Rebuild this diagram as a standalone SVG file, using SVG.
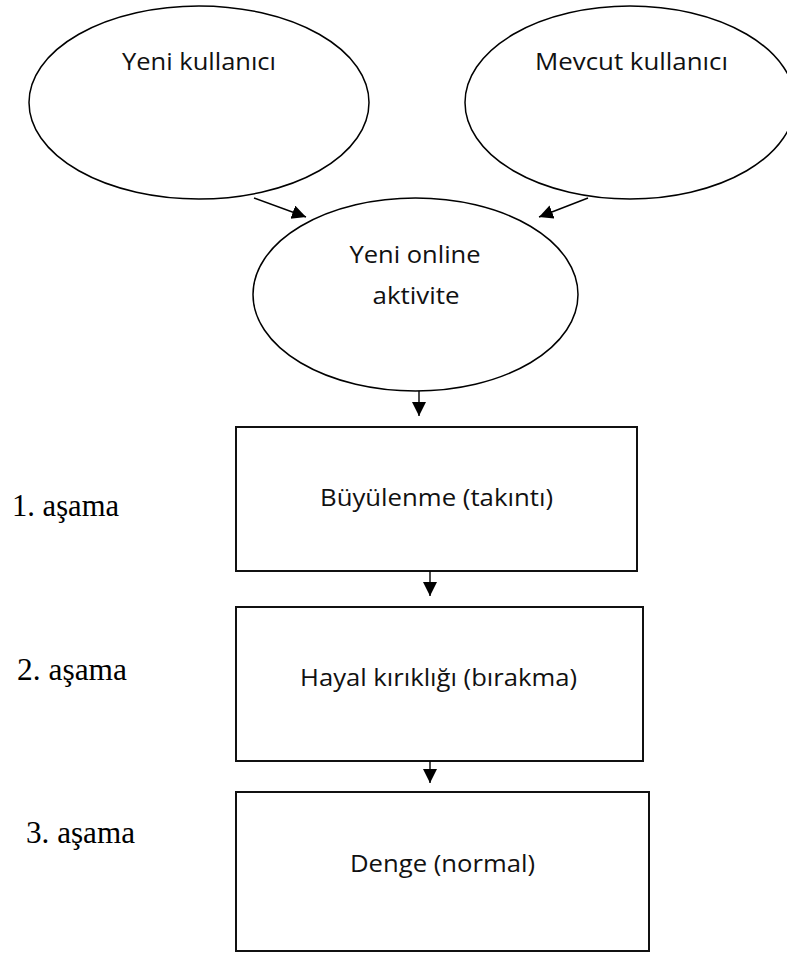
<svg xmlns="http://www.w3.org/2000/svg" width="787" height="953" viewBox="0 0 787 953">
<style>
.shape{fill:#fff;stroke:#000;stroke-width:1.5}
.box{fill:#fff;stroke:#111;stroke-width:2}
.lbl{font-family:"Open Sans","Liberation Sans",Arial,sans-serif;font-size:23px;fill:#111;text-anchor:middle}
.stage{font-family:"Liberation Serif","Times New Roman",serif;font-size:31px;fill:#000}
.conn{stroke:#000;stroke-width:1.4;fill:none;marker-end:url(#ah)}
</style>
<defs>
<marker id="ah" markerUnits="userSpaceOnUse" markerWidth="15" markerHeight="15" refX="14" refY="7" orient="auto">
<path d="M0,0 L14,7 L0,14 z" fill="#000"/>
</marker>
</defs>
<rect width="787" height="953" fill="#fff"/>
<g id="n-yeni-kullanici">
<ellipse class="shape" cx="199" cy="102.5" rx="170" ry="96.5"/>
<text class="lbl" x="199" y="70" textLength="154" lengthAdjust="spacingAndGlyphs">Yeni kullanıcı</text>
</g>
<g id="n-mevcut-kullanici">
<ellipse class="shape" cx="630" cy="102.5" rx="165" ry="96.5"/>
<text class="lbl" x="631.5" y="70" textLength="193" lengthAdjust="spacingAndGlyphs">Mevcut kullanıcı</text>
</g>
<g id="n-yeni-online">
<ellipse class="shape" cx="415.5" cy="294.5" rx="162.5" ry="96.5"/>
<text class="lbl" x="415" y="263" textLength="131" lengthAdjust="spacingAndGlyphs">Yeni online</text>
<text class="lbl" x="416" y="304" textLength="87" lengthAdjust="spacingAndGlyphs">aktivite</text>
</g>
<g id="n-buyulenme">
<rect class="box" x="236" y="427" width="401" height="144"/>
<text class="lbl" x="436.5" y="506" textLength="233" lengthAdjust="spacingAndGlyphs">Büyülenme (takıntı)</text>
</g>
<g id="n-hayal">
<rect class="box" x="236" y="607" width="407" height="154"/>
<text class="lbl" x="438.5" y="686" textLength="277" lengthAdjust="spacingAndGlyphs">Hayal kırıklığı (bırakma)</text>
</g>
<g id="n-denge">
<rect class="box" x="236" y="792" width="413" height="159"/>
<text class="lbl" x="442.5" y="872" textLength="185" lengthAdjust="spacingAndGlyphs">Denge (normal)</text>
</g>
<g id="stages">
<text class="stage" x="12" y="516" textLength="107" lengthAdjust="spacingAndGlyphs">1. aşama</text>
<text class="stage" x="17" y="680" textLength="110" lengthAdjust="spacingAndGlyphs">2. aşama</text>
<text class="stage" x="26" y="843" textLength="109" lengthAdjust="spacingAndGlyphs">3. aşama</text>
</g>
<g id="connectors">
<line class="conn" x1="254" y1="198" x2="306" y2="217"/>
<line class="conn" x1="588" y1="198" x2="539" y2="217"/>
<line class="conn" x1="419" y1="391" x2="419" y2="416"/>
<line class="conn" x1="430" y1="571" x2="430" y2="596"/>
<line class="conn" x1="430" y1="761" x2="430" y2="783"/>
</g>
</svg>
